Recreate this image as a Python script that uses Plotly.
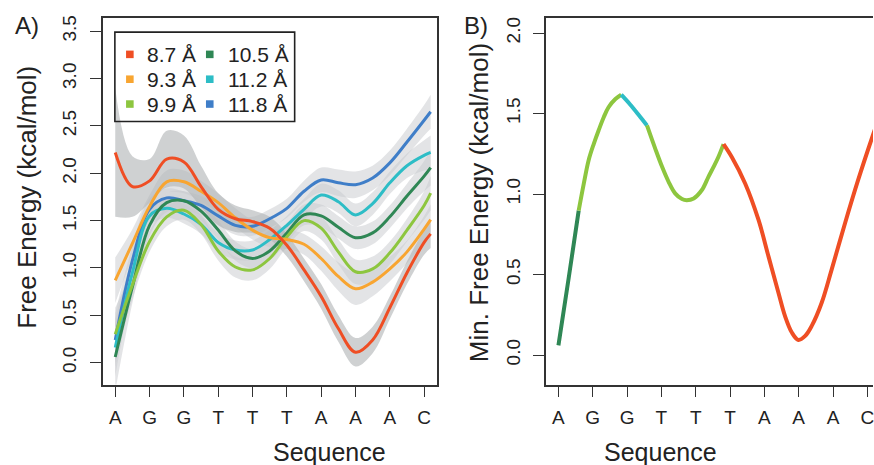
import plotly.graph_objects as go

W, H = 874, 465

# ---------------- data ----------------
seq_labels = ["A", "G", "G", "T", "T", "T", "A", "A", "A", "C"]
seq_pos = [0, 1, 2, 3, 4, 5, 6, 7, 8, 9]

pos = [0, 0.5, 1, 1.5, 2, 2.5, 3, 3.5, 4, 4.5, 5, 5.5, 6, 6.5, 7, 7.5, 8, 8.5, 9, 9.19]

e87 = [2.22, 1.86, 1.92, 2.15, 2.12, 1.86, 1.62, 1.52, 1.49, 1.42, 1.24, 0.98, 0.70, 0.36, 0.11, 0.24, 0.58, 0.95, 1.27, 1.36]
e93 = [0.87, 1.26, 1.65, 1.91, 1.91, 1.81, 1.69, 1.53, 1.40, 1.32, 1.30, 1.25, 1.10, 0.91, 0.78, 0.85, 0.99, 1.17, 1.41, 1.51]
e99 = [0.30, 0.82, 1.28, 1.54, 1.61, 1.46, 1.18, 1.01, 0.98, 1.10, 1.33, 1.50, 1.42, 1.17, 0.96, 0.99, 1.16, 1.40, 1.66, 1.79]
e105 = [0.06, 0.80, 1.45, 1.69, 1.71, 1.60, 1.40, 1.18, 1.10, 1.18, 1.37, 1.56, 1.55, 1.43, 1.32, 1.37, 1.54, 1.76, 1.97, 2.06]
e112 = [0.16, 0.95, 1.55, 1.63, 1.57, 1.46, 1.27, 1.19, 1.19, 1.30, 1.45, 1.62, 1.77, 1.70, 1.56, 1.68, 1.90, 2.08, 2.19, 2.22]
e118 = [0.24, 1.08, 1.62, 1.74, 1.71, 1.66, 1.55, 1.45, 1.44, 1.52, 1.63, 1.81, 1.93, 1.90, 1.88, 1.95, 2.11, 2.33, 2.56, 2.65]

hw87 = [0.68, 0.32, 0.23, 0.30, 0.28, 0.22, 0.17, 0.14, 0.12, 0.12, 0.12, 0.12, 0.13, 0.14, 0.15, 0.14, 0.12, 0.12, 0.13, 0.15]
hw93 = [0.24, 0.15, 0.12, 0.12, 0.12, 0.11, 0.10, 0.10, 0.10, 0.10, 0.10, 0.11, 0.13, 0.15, 0.17, 0.15, 0.13, 0.12, 0.14, 0.16]
hw99 = [0.28, 0.15, 0.11, 0.10, 0.10, 0.10, 0.10, 0.11, 0.11, 0.11, 0.11, 0.11, 0.12, 0.13, 0.13, 0.13, 0.12, 0.12, 0.15, 0.18]
hw105 = [0.36, 0.17, 0.11, 0.10, 0.10, 0.10, 0.10, 0.10, 0.10, 0.10, 0.10, 0.11, 0.12, 0.12, 0.12, 0.12, 0.12, 0.13, 0.16, 0.19]
hw112 = [0.30, 0.16, 0.11, 0.10, 0.10, 0.10, 0.10, 0.10, 0.10, 0.10, 0.10, 0.11, 0.12, 0.12, 0.12, 0.12, 0.12, 0.13, 0.16, 0.18]
hw118 = [0.28, 0.15, 0.11, 0.10, 0.10, 0.10, 0.10, 0.10, 0.10, 0.10, 0.10, 0.11, 0.13, 0.14, 0.14, 0.13, 0.13, 0.14, 0.16, 0.18]

series_names = ["8.7 Å", "9.3 Å", "9.9 Å", "10.5 Å", "11.2 Å", "11.8 Å"]
series_vals = [e87, e93, e99, e105, e112, e118]
series_hw = [hw87, hw93, hw99, hw105, hw112, hw118]
series_colors = ["#EF4E24", "#F8A531", "#8DC63F", "#2F8755", "#2DBDC6", "#3F7EC8"]

# Panel B: minimum free energy, segments coloured by the lowest series
minB_x_105 = [0, 0.30, 0.59]
minB_y_105 = [0.06, 0.48, 0.897]
minB_x_99a = [0.59, 0.74, 0.88, 1.03, 1.17, 1.32, 1.46, 1.66, 1.83]
minB_y_99a = [0.897, 1.066, 1.21, 1.312, 1.395, 1.477, 1.539, 1.59, 1.617]
minB_x_112 = [1.83, 2.095, 2.34, 2.58]
minB_y_112 = [1.617, 1.555, 1.491, 1.426]
minB_x_99b = [2.58, 2.82, 3.02, 3.21, 3.40, 3.60, 3.74, 3.94, 4.18, 4.37, 4.52, 4.66, 4.81]
minB_y_99b = [1.426, 1.282, 1.169, 1.076, 1.004, 0.969, 0.962, 0.973, 1.025, 1.107, 1.169, 1.23, 1.31]
minB_x_87 = [4.81, 5.05, 5.44, 5.83, 6.12, 6.41, 6.60, 6.80, 6.99, 7.19, 7.38, 7.67, 7.96, 8.35, 8.73, 9.16, 9.30]
minB_y_87 = [1.31, 1.23, 1.066, 0.839, 0.613, 0.387, 0.243, 0.140, 0.094, 0.119, 0.181, 0.325, 0.531, 0.819, 1.086, 1.364, 1.45]

segments_B = [
    (minB_x_105, minB_y_105, series_colors[3]),
    (minB_x_99a, minB_y_99a, series_colors[2]),
    (minB_x_112, minB_y_112, series_colors[4]),
    (minB_x_99b, minB_y_99b, series_colors[2]),
    (minB_x_87, minB_y_87, series_colors[0]),
]

yticks_A = [0, 0.5, 1.0, 1.5, 2.0, 2.5, 3.0, 3.5]
yticks_B = [0, 0.5, 1.0, 1.5, 2.0]

# ---------------- figure ----------------
FONT = "Liberation Sans, Arial, Helvetica, sans-serif"
fig = go.Figure()

# bands (light ones first, red band darker on top)
order = [1, 2, 3, 4, 5, 0]
for k in order:
    vals, hw = series_vals[k], series_hw[k]
    up = [v + h for v, h in zip(vals, hw)]
    lo = [v - h for v, h in zip(vals, hw)]
    fillc = "rgba(178,180,183,0.62)" if k == 0 else "rgba(200,202,205,0.5)"
    fig.add_trace(go.Scatter(x=pos, y=up, mode="lines", line=dict(width=0, shape="spline"),
                             showlegend=False, hoverinfo="skip", xaxis="x", yaxis="y"))
    fig.add_trace(go.Scatter(x=pos, y=lo, mode="lines", line=dict(width=0, shape="spline"),
                             fill="tonexty", fillcolor=fillc,
                             showlegend=False, hoverinfo="skip", xaxis="x", yaxis="y"))

# lines
for k in [5, 4, 3, 2, 1, 0]:
    fig.add_trace(go.Scatter(x=pos, y=series_vals[k], mode="lines", name=series_names[k],
                             line=dict(color=series_colors[k], width=3, shape="spline"),
                             showlegend=False, xaxis="x", yaxis="y"))

# panel B
for xs, ys, c in segments_B:
    fig.add_trace(go.Scatter(x=xs, y=ys, mode="lines",
                             line=dict(color=c, width=4, shape="spline"),
                             showlegend=False, xaxis="x2", yaxis="y2"))

# legend (drawn as text + small colour keys inside a box, two columns)
legend_shapes = [dict(type="rect", xref="paper", yref="paper", x0=115 / W, x1=295 / W,
                      y0=(H - 119.3) / H, y1=(H - 29.3) / H, line=dict(color="#222", width=1.6),
                      fillcolor="rgba(0,0,0,0)")]
legend_ann = []
col_key_x = [130, 210]
col_txt_x = [145, 226]
row_y = [51.7, 76.7, 101.7]
for k, name in enumerate(series_names):
    col, row = k // 3, k % 3
    cx, cy = col_key_x[col], row_y[row]
    legend_shapes.append(dict(type="rect", xref="paper", yref="paper",
                              x0=(cx - 3.8) / W, x1=(cx + 3.8) / W,
                              y0=(H - cy - 3.8) / H, y1=(H - cy + 3.8) / H,
                              line=dict(width=0), fillcolor=series_colors[k]))
    legend_ann.append(dict(text=name, x=col_txt_x[col] / W, y=(H - cy) / H, xref="paper", yref="paper",
                           showarrow=False, xanchor="left", yanchor="middle",
                           font=dict(family=FONT, size=21, color="#222")))

axcol = "#333333"
ydomA = [(H - 384) / H, (H - 15) / H]

common_x = dict(tickmode="array", tickvals=seq_pos, ticktext=seq_labels, ticks="outside",
                ticklen=11, tickwidth=1.3, tickcolor=axcol, showline=True, linecolor=axcol,
                linewidth=1.6, showgrid=False, zeroline=False, ticklabeloverflow="allow",
                tickfont=dict(family=FONT, size=19, color="#222"), ticklabelstandoff=4)
common_y = dict(tickmode="array", ticks="outside", ticklen=11, tickwidth=1.3, tickcolor=axcol,
                showline=True, linecolor=axcol, linewidth=1.6, showgrid=False, zeroline=False,
                tickangle=-90, tickformat=".1f",
                tickfont=dict(family=FONT, size=19, color="#222"), ticklabelstandoff=6)

fig.update_layout(
    width=W, height=H, margin=dict(l=0, r=0, t=0, b=0),
    paper_bgcolor="white", plot_bgcolor="white", showlegend=False,
    font=dict(family=FONT, color="#222"),
    xaxis=dict(domain=[103 / W, 437 / W], range=[-0.36, 9.36], mirror=True, anchor="y", **common_x),
    yaxis=dict(domain=ydomA, range=[-0.231, 3.641], tickvals=yticks_A, mirror=True, anchor="x", **common_y),
    xaxis2=dict(domain=[546.7 / W, 1.0], range=[-0.36, 9.165], mirror=True, anchor="y2", **common_x),
    yaxis2=dict(domain=ydomA, range=[-0.183, 2.094], tickvals=yticks_B, anchor="x2", **common_y),
    shapes=legend_shapes,
    annotations=legend_ann + [
        dict(text="Sequence", x=271 / W, y=(H - 452) / H, xref="paper", yref="paper",
             showarrow=False, font=dict(family=FONT, size=25, color="#222"), yanchor="middle"),
        dict(text="Sequence", x=720 / W, y=(H - 452) / H, xref="paper", yref="paper",
             showarrow=False, font=dict(family=FONT, size=25, color="#222"), yanchor="middle"),
        dict(text="Free Energy (kcal/mol)", x=27 / W, y=(H - 195) / H, xref="paper", yref="paper",
             showarrow=False, textangle=-90, font=dict(family=FONT, size=26, color="#222"),
             xanchor="center", yanchor="middle"),
        dict(text="Min. Free Energy (kcal/mol)", x=479 / W, y=(H - 201) / H, xref="paper", yref="paper",
             showarrow=False, textangle=-90, font=dict(family=FONT, size=26, color="#222"),
             xanchor="center", yanchor="middle"),
        dict(text="A)", x=27 / W, y=(H - 23) / H, xref="paper", yref="paper", showarrow=False,
             font=dict(family=FONT, size=24, color="#222"), xanchor="center", yanchor="middle"),
        dict(text="B)", x=477 / W, y=(H - 23) / H, xref="paper", yref="paper", showarrow=False,
             font=dict(family=FONT, size=24, color="#222"), xanchor="center", yanchor="middle"),
    ],
)

fig.write_html("out.html")
